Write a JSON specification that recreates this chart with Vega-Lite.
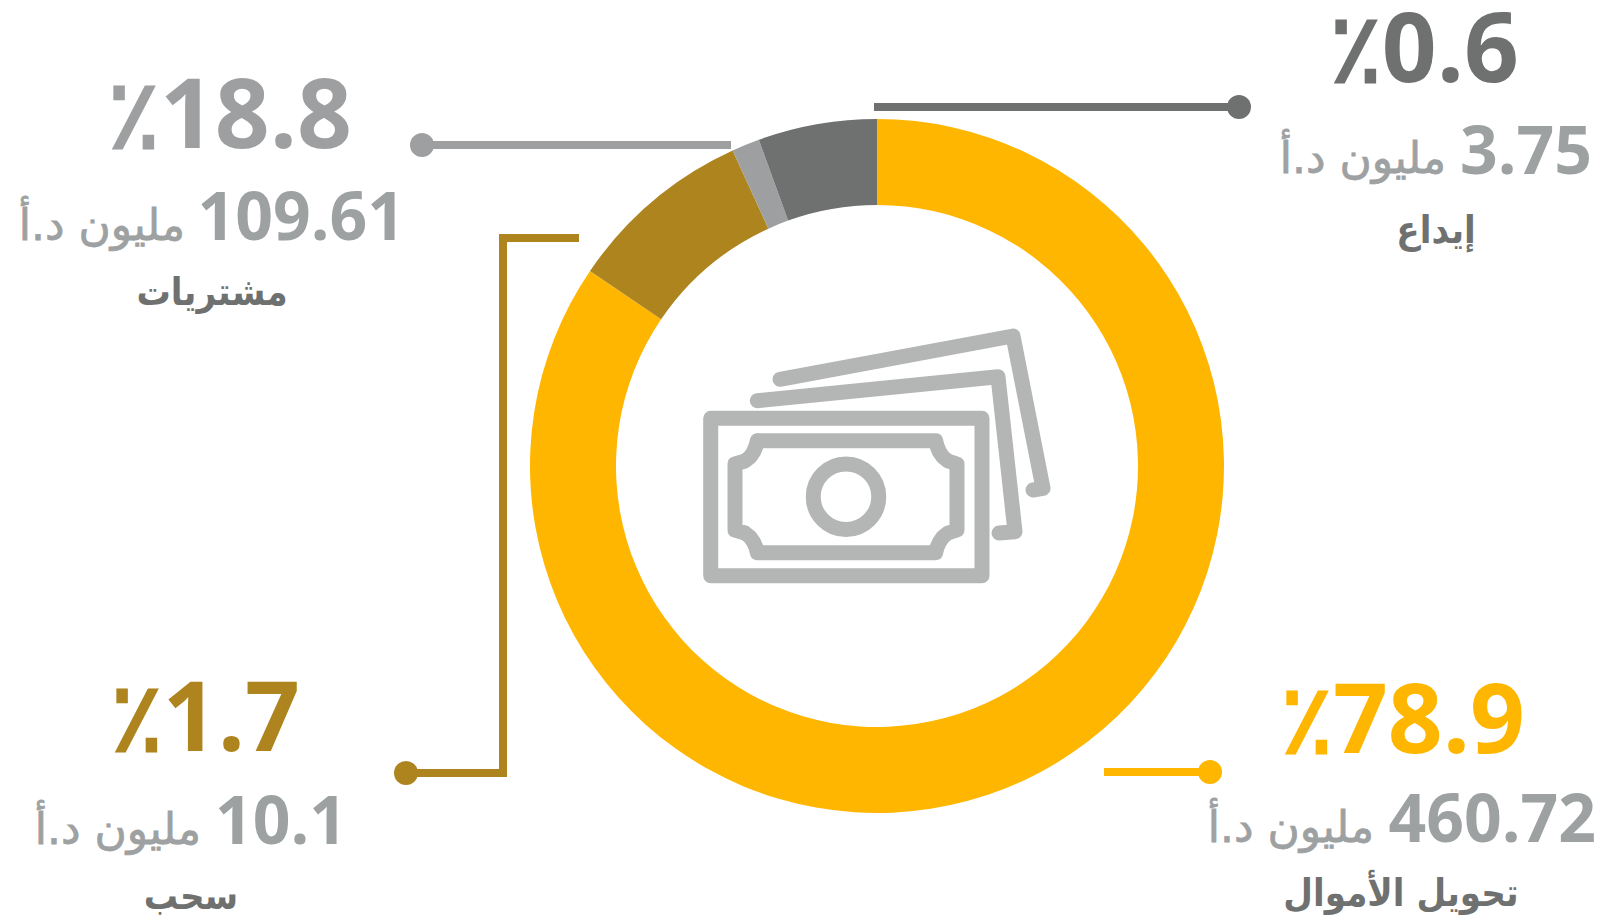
{
"$schema":"https://vega.github.io/schema/vega-lite/v6.json",
"width":1600,"height":919,"autosize":{"type":"fit","contains":"padding"},"padding":0,"background":"#ffffff",
"config":{"view":{"stroke":null}},
"datasets":{
"slices":[
{"series":"تحويل الأموال","share":84.5,"seq":1},
{"series":"سحب","share":8.67,"seq":2},
{"series":"مشتريات","share":1.3,"seq":3},
{"series":"إيداع","share":5.53,"seq":4}],
"leaders":[
{"series":"تحويل الأموال","x":1104,"y":772,"o":1},{"series":"تحويل الأموال","x":1210,"y":772,"o":2},
{"series":"سحب","x":579,"y":238,"o":1},{"series":"سحب","x":503,"y":238,"o":2},{"series":"سحب","x":503,"y":773,"o":3},{"series":"سحب","x":406,"y":773,"o":4},
{"series":"مشتريات","x":731,"y":145,"o":1},{"series":"مشتريات","x":422,"y":145,"o":2},
{"series":"إيداع","x":874,"y":107,"o":1},{"series":"إيداع","x":1239,"y":107,"o":2}],
"dots":[
{"series":"تحويل الأموال","x":1210,"y":772},{"series":"سحب","x":406,"y":773},{"series":"مشتريات","x":422,"y":145},{"series":"إيداع","x":1239,"y":107}],
"pct":[
{"series":"تحويل الأموال","t":"٪78.9","x":1525,"y":753},{"series":"سحب","t":"٪1.7","x":300,"y":751},{"series":"مشتريات","t":"٪18.8","x":352,"y":148},{"series":"إيداع","t":"٪0.6","x":1519,"y":82}],
"amount":[
{"t":"460.72","x":1596,"y":842},{"t":"10.1","x":347,"y":844},{"t":"109.61","x":405,"y":240},{"t":"3.75","x":1592,"y":174}],
"unit":[
{"t":"مليون د.أ","x":1374,"y":842},{"t":"مليون د.أ","x":201,"y":844},{"t":"مليون د.أ","x":185,"y":240},{"t":"مليون د.أ","x":1446,"y":173}],
"names":[
{"t":"تحويل الأموال","x":1401,"y":906},{"t":"سحب","x":191,"y":909},{"t":"مشتريات","x":212,"y":305},{"t":"إيداع","x":1436,"y":243}],
"icon":[
{"p":"n2","o":1,"x":780,"y":379.3},{"p":"n2","o":2,"x":1013,"y":336},{"p":"n2","o":3,"x":1043,"y":488.3},{"p":"n2","o":4,"x":1033,"y":490},
{"p":"n1","o":1,"x":757.3,"y":400.7},{"p":"n1","o":2,"x":998,"y":376.7},{"p":"n1","o":3,"x":1015,"y":531.7},{"p":"n1","o":4,"x":999,"y":533},
{"p":"r","o":1,"x":710.7,"y":418.3},{"p":"r","o":2,"x":982,"y":418.3},{"p":"r","o":3,"x":982,"y":575.7},{"p":"r","o":4,"x":710.7,"y":575.7},{"p":"r","o":5,"x":710.7,"y":418.3},
{"p":"i","o":1,"x":757.3,"y":440.7},{"p":"i","o":2,"x":935.7,"y":440.7},{"p":"i","o":3,"x":937,"y":446},{"p":"i","o":4,"x":939.5,"y":452},{"p":"i","o":5,"x":943,"y":457},{"p":"i","o":6,"x":948,"y":461},{"p":"i","o":7,"x":957,"y":464},
{"p":"i","o":8,"x":957,"y":530},{"p":"i","o":9,"x":948,"y":533},{"p":"i","o":10,"x":943,"y":537},{"p":"i","o":11,"x":939.5,"y":542},{"p":"i","o":12,"x":937,"y":547.5},{"p":"i","o":13,"x":935.7,"y":552.7},
{"p":"i","o":14,"x":757.3,"y":552.7},{"p":"i","o":15,"x":756,"y":547.5},{"p":"i","o":16,"x":753.5,"y":542},{"p":"i","o":17,"x":750,"y":537},{"p":"i","o":18,"x":745,"y":533},{"p":"i","o":19,"x":735,"y":530},
{"p":"i","o":20,"x":735,"y":464},{"p":"i","o":21,"x":745,"y":461},{"p":"i","o":22,"x":750,"y":457},{"p":"i","o":23,"x":753.5,"y":452},{"p":"i","o":24,"x":756,"y":446},{"p":"i","o":25,"x":757.3,"y":440.7}],
"ring":[{"x":846,"y":496.7}]
},
"layer":[
{"data":{"name":"slices"},
 "mark":{"type":"arc","outerRadius":347,"innerRadius":261},
 "encoding":{
  "x":{"datum":877,"type":"quantitative","scale":{"domain":[0,1600],"range":[0,1600],"nice":false,"zero":false},"axis":null},
  "y":{"datum":466,"type":"quantitative","scale":{"domain":[0,919],"range":[0,919],"nice":false,"zero":false},"axis":null},
  "theta":{"field":"share","type":"quantitative","stack":true},
  "order":{"field":"seq"},
  "color":{"field":"series","type":"nominal","legend":null,"scale":{"domain":["تحويل الأموال","سحب","مشتريات","إيداع"],"range":["#ffb600","#ae841f","#9d9fa0","#6f7170"]}}}},
{"data":{"name":"leaders"},
 "mark":{"type":"line","strokeWidth":8,"strokeJoin":"miter","strokeCap":"butt"},
 "encoding":{
  "x":{"field":"x","type":"quantitative","axis":null},
  "y":{"field":"y","type":"quantitative","axis":null},
  "order":{"field":"o"},
  "color":{"field":"series","type":"nominal","legend":null}}},
{"data":{"name":"dots"},
 "mark":{"type":"circle","size":576,"opacity":1},
 "encoding":{
  "x":{"field":"x","type":"quantitative","axis":null},
  "y":{"field":"y","type":"quantitative","axis":null},
  "color":{"field":"series","type":"nominal","legend":null}}},
{"data":{"name":"icon"},
 "mark":{"type":"line","strokeWidth":15,"strokeJoin":"round","strokeCap":"round","color":"#b4b6b5"},
 "encoding":{
  "x":{"field":"x","type":"quantitative","axis":null},
  "y":{"field":"y","type":"quantitative","axis":null},
  "detail":{"field":"p"},
  "order":{"field":"o"}}},
{"data":{"name":"ring"},
 "mark":{"type":"point","filled":false,"size":4290,"strokeWidth":15,"color":"#b4b6b5","opacity":1},
 "encoding":{
  "x":{"field":"x","type":"quantitative","axis":null},
  "y":{"field":"y","type":"quantitative","axis":null}}},
{"data":{"name":"pct"},
 "mark":{"type":"text","align":"right","baseline":"alphabetic","font":"Open Sans","fontWeight":"bold","fontSize":96},
 "encoding":{
  "x":{"field":"x","type":"quantitative","axis":null},
  "y":{"field":"y","type":"quantitative","axis":null},
  "text":{"field":"t"},
  "color":{"field":"series","type":"nominal","legend":null}}},
{"data":{"name":"amount"},
 "mark":{"type":"text","align":"right","baseline":"alphabetic","font":"Open Sans","fontWeight":"bold","fontSize":66,"color":"#9ea1a2"},
 "encoding":{
  "x":{"field":"x","type":"quantitative","axis":null},
  "y":{"field":"y","type":"quantitative","axis":null},
  "text":{"field":"t"}}},
{"data":{"name":"unit"},
 "mark":{"type":"text","align":"right","baseline":"alphabetic","font":"DejaVu Sans","fontSize":44,"color":"#9ea1a2","stroke":"#9ea1a2","strokeWidth":0.8},
 "encoding":{
  "x":{"field":"x","type":"quantitative","axis":null},
  "y":{"field":"y","type":"quantitative","axis":null},
  "text":{"field":"t"}}},
{"data":{"name":"names"},
 "mark":{"type":"text","align":"center","baseline":"alphabetic","font":"DejaVu Sans Condensed","fontWeight":"bold","fontSize":38,"color":"#6f7170"},
 "encoding":{
  "x":{"field":"x","type":"quantitative","axis":null},
  "y":{"field":"y","type":"quantitative","axis":null},
  "text":{"field":"t"}}}
],
"resolve":{"scale":{"color":"shared"}}
}
